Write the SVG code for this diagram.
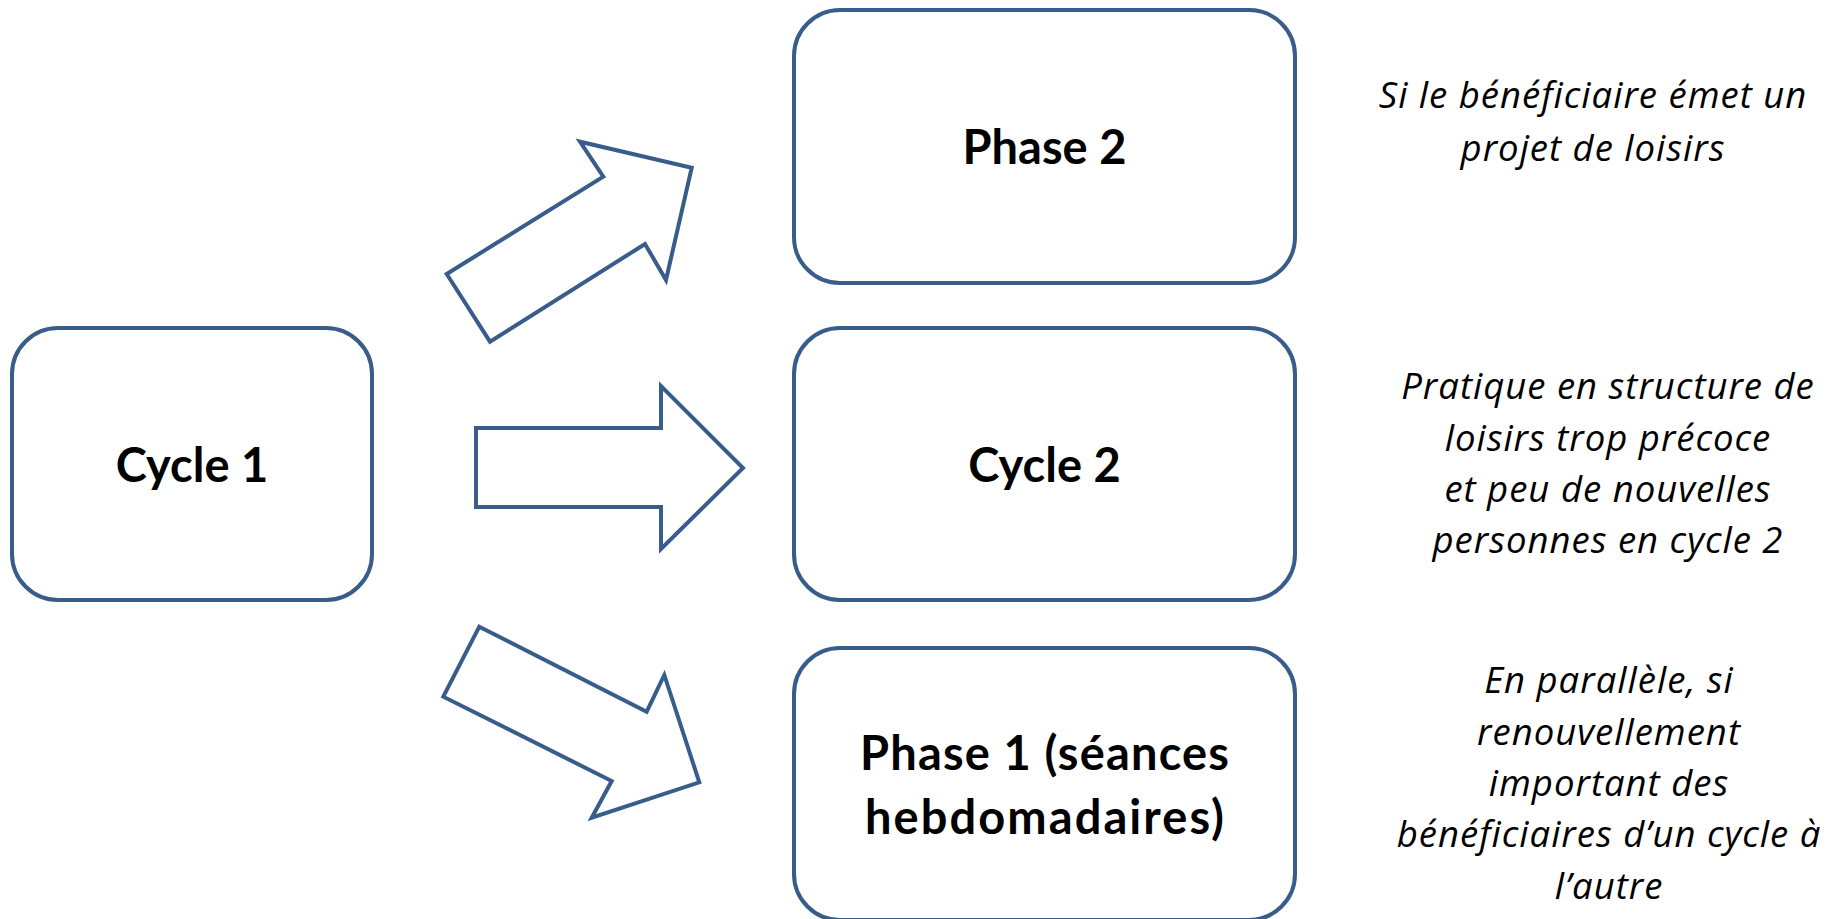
<svg xmlns="http://www.w3.org/2000/svg" width="1829" height="919" viewBox="0 0 1829 919">
<style>
.box{fill:#fff;stroke:#385D8A;stroke-width:4}
.arr{fill:#fff;stroke:#385D8A;stroke-width:4;stroke-linejoin:miter}
.lbl{font-family:Lato,"Open Sans",sans-serif;font-weight:bold;font-size:47px;fill:#000;text-anchor:middle}
.note{font-family:"Open Sans",Lato,sans-serif;font-style:italic;font-size:36.5px;letter-spacing:1px;fill:#000;text-anchor:middle}
</style>
<rect width="1829" height="919" fill="#fff"/>
<g id="connectors">
<polygon class="arr" points="446.7,274 603.3,176.7 580,141.7 691.7,167.7 666,280 645,244 490,341.7"/>
<polygon class="arr" points="476,428 661,428 661,386 743,468 661,549 661,507 476,507"/>
<polygon class="arr" points="479.3,626.7 646.7,711.7 664.3,675 699.3,782.3 591.7,817.7 611.7,781 443.3,696.7"/>
</g>
<g id="cycle1">
<rect class="box" x="12" y="328" width="360" height="272" rx="46"/>
<text class="lbl" x="192" y="482">Cycle 1</text>
</g>
<g id="phase2">
<rect class="box" x="794" y="10" width="501" height="273" rx="46"/>
<text class="lbl" x="1044.5" y="164">Phase 2</text>
</g>
<g id="cycle2">
<rect class="box" x="794" y="328" width="501" height="272" rx="46"/>
<text class="lbl" x="1044.5" y="482">Cycle 2</text>
</g>
<g id="phase1">
<rect class="box" x="794" y="648" width="501" height="272" rx="46"/>
<text class="lbl" x="1044.5" y="770" textLength="369" lengthAdjust="spacing">Phase 1 (séances</text>
<text class="lbl" x="1044.5" y="834" textLength="359" lengthAdjust="spacing">hebdomadaires)</text>
</g>
<g id="note1">
<text class="note" x="1593" y="108">Si le bénéficiaire émet un</text>
<text class="note" x="1593" y="161">projet de loisirs</text>
</g>
<g id="note2">
<text class="note" x="1608" y="399">Pratique en structure de</text>
<text class="note" x="1608" y="450.5">loisirs trop précoce</text>
<text class="note" x="1608" y="502">et peu de nouvelles</text>
<text class="note" x="1608" y="553">personnes en cycle 2</text>
</g>
<g id="note3">
<text class="note" x="1609" y="693">En parallèle, si</text>
<text class="note" x="1609" y="744.5">renouvellement</text>
<text class="note" x="1609" y="796">important des</text>
<text class="note" x="1609" y="847">bénéficiaires d’un cycle à</text>
<text class="note" x="1609" y="899">l’autre</text>
</g>
</svg>
